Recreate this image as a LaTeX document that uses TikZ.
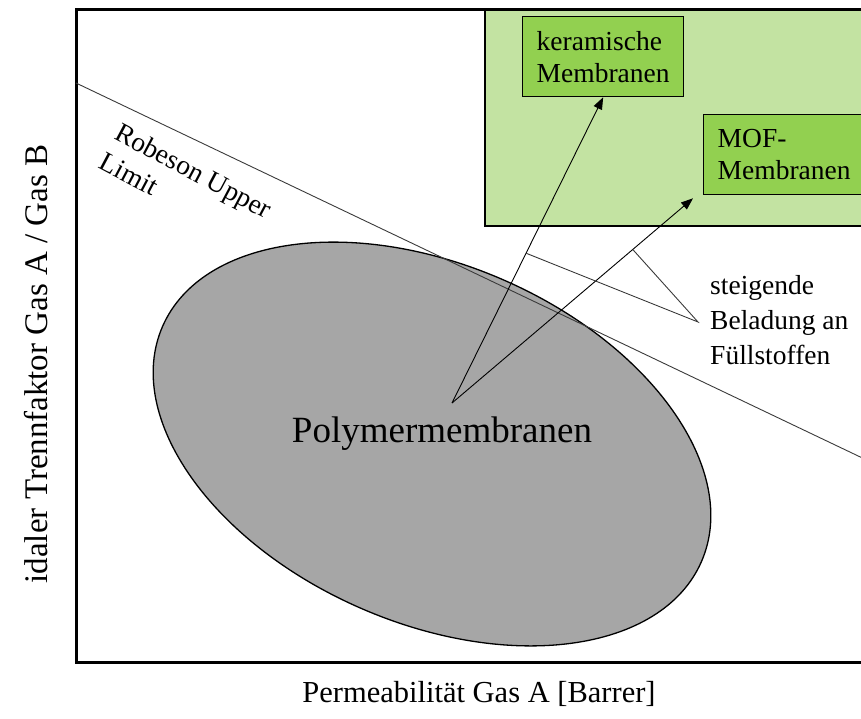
\documentclass[tikz,border=0pt]{standalone}
\usepackage{fontspec}
\setmainfont{Liberation Serif}
\usetikzlibrary{arrows.meta,positioning,calc,shapes.geometric}
\definecolor{mmgreenbg}{HTML}{C3E3A2}
\definecolor{mmgreen}{HTML}{92D050}
\definecolor{mmgrey}{HTML}{A6A6A6}
\definecolor{mmline}{HTML}{3A3A3A}

\begin{document}
\begin{tikzpicture}[
  x=1pt, y=-1pt,
  membox/.style={
    draw=black, line width=1.3pt, fill=mmgreen,
    font=\fontsize{27.5}{32}\selectfont, align=left,
    minimum width=161pt, minimum height=80pt,
    inner sep=0pt, anchor=north west},
  lbl/.style={font=\fontsize{27.5}{35}\selectfont, align=left, inner sep=0pt},
  axis/.style={font=\fontsize{30.5}{36}\selectfont, inner sep=0pt},
  arrow/.style={-{Triangle[length=12pt,width=9pt]}, black, line width=0.9pt},
  leader/.style={mmline, line width=0.9pt},
]

  \useasboundingbox (0,0) rectangle (861,718);
  \clip (0,0) rectangle (861,718);

  %% ---- Region of inorganic membranes ----
  \filldraw[fill=mmgreenbg, draw=black, line width=1.3pt] (485,9) rectangle (875,226);

  %% ---- Plot frame ----
  \draw[line width=3pt] (875,9) -- (76,9) -- (76,662) -- (875,662);

  %% ---- Polymer cloud ----
  \node[ellipse, draw, line width=1.3pt, fill=mmgrey, inner sep=0pt,
    minimum width=588pt, minimum height=358pt, rotate=-23.6] (poly) at (432,444) {};
  \node[font=\fontsize{37}{40}\selectfont, anchor=base, inner sep=0pt] (polylbl)
    at (442,442) {Polymermembranen};

  %% ---- Upper bound ----
  \coordinate (rob1) at (76,83);
  \coordinate (rob2) at (875,464);
  \draw[leader] (rob1) -- (rob2);
  \node[lbl, font=\fontsize{27.5}{33}\selectfont, rotate=-28] (roblbl)
    at (186,185) {Robeson Upper\\Limit};

  %% ---- Membrane boxes ----
  \node[membox] (kera) at (522,16)  {keramische\\Membranen};
  \node[membox] (mof)  at (703,114) {MOF-\\Membranen};

  %% ---- Arrows out of the polymer cloud ----
  \coordinate (src) at (452,403);
  \coordinate (mofend) at ($(mof.south west)+(-10,3)$);
  \draw[arrow] (src) -- (kera.south);
  \draw[arrow] (src) -- (mofend);

  %% ---- Filler loading ----
  \node[lbl, anchor=west] (load) at (710,320) {steigende\\Beladung an\\Füllstoffen};
  \coordinate (loadpt) at ($(load.west)+(-12,2)$);
  \draw[leader] ($(src)!0.49!(kera.south)$) -- (loadpt) -- ($(src)!0.75!(mofend)$);

  %% ---- Axis labels ----
  \node[axis, font=\fontsize{33}{38}\selectfont, rotate=90] (ylab) at (36,364)
    {idaler Trennfaktor Gas A / Gas B};
  \node[axis, anchor=base] (xlab) at (479,702) {Permeabilität Gas A [Barrer]};

\end{tikzpicture}
\end{document}
